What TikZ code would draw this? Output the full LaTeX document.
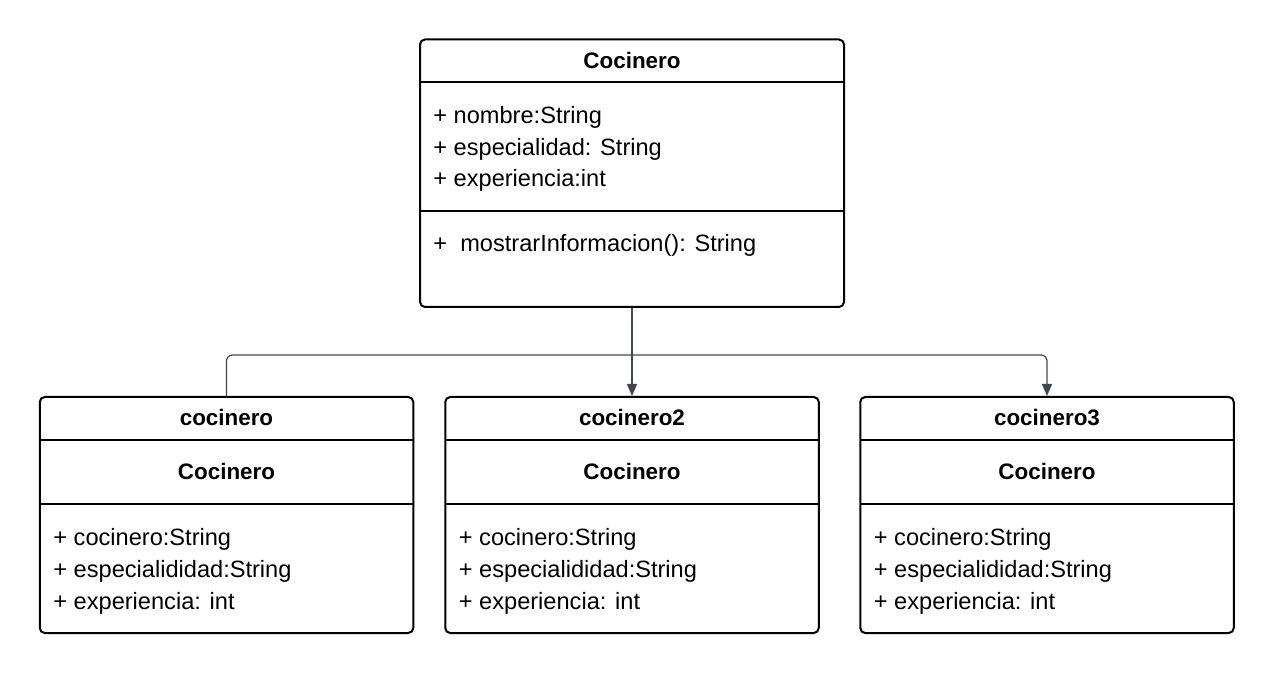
\documentclass[tikz,border=0pt]{standalone}
\usepackage{fontspec}
\setmainfont{Liberation Sans}
\usetikzlibrary{arrows.meta}
\definecolor{linkgray}{RGB}{64,70,82}
\tikzset{
	classbox/.style = {draw = black, line width = 1pt, rounded corners = 2.5pt, inner sep = 0pt},
	divider/.style = {draw = black, line width = 1pt},
	member/.style = {anchor = base west, inner sep = 0pt, font = \fontsize{11.8}{14}\selectfont},
	classname/.style = {anchor = base, inner sep = 0pt, font = \fontsize{11.2}{14}\selectfont\bfseries},
	link/.style = {draw = linkgray, line width = 0.6pt, -{Triangle[width = 5pt, length = 6pt]}}
}

\begin{document}
\begin{tikzpicture}[x = 0.5pt, y = -0.5pt]
	\useasboundingbox (0,0) rectangle (1274,673);
	% superclass
	\node[classbox, minimum width = 212pt, minimum height = 133.75pt] (Cocinero) at (632,173.25) {};
	\draw[divider] (420,82) -- (844,82);
	\draw[divider] (420,211) -- (844,211);
	\node[classname] (titulo) at (632,69) {Cocinero};
	\node[member] (nombre) at (433,124) {+ nombre:String};
	\node[member] (especialidad) at (433,155.5) {+ especialidad: String};
	\node[member] (experiencia) at (433,187) {+ experiencia:int};
	\node[member] (mostrar) at (433,251.5) {+\ \ mostrarInformacion(): String};
	% objects
	\foreach \name/\cx in {cocinero/226.5, cocinero2/632, cocinero3/1047} {
		\node[classbox, minimum width = 186.75pt, minimum height = 118pt] (\name) at (\cx,515) {};
		\draw[divider] (\cx-186.75,440) -- (\cx+186.75,440);
		\draw[divider] (\cx-186.75,504) -- (\cx+186.75,504);
		\node[classname] (\name-obj) at (\cx,426) {\name};
		\node[classname] (\name-cls) at (\cx,480) {Cocinero};
		\node[member] (\name-a) at (\cx-173.5,545) {+ cocinero:String};
		\node[member] (\name-b) at (\cx-173.5,577.5) {+ especialididad:String};
		\node[member] (\name-c) at (\cx-173.5,609) {+ experiencia: int};
	}
	% links
	\draw[link] (Cocinero.south) -- (cocinero2.north);
	\draw[link, rounded corners = 3pt] (cocinero.north) -- ++(0,-41) -| (cocinero3.north);
\end{tikzpicture}
\end{document}
